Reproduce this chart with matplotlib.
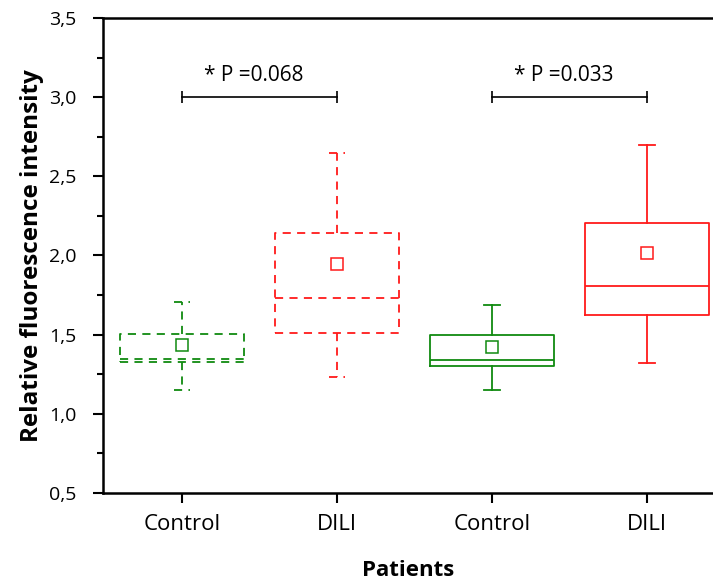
import matplotlib
matplotlib.use("Agg")
import matplotlib.pyplot as plt
from matplotlib.ticker import FuncFormatter, MultipleLocator

plt.rcParams['font.family'] = ['Open Sans', 'DejaVu Sans']

# box statistics per group: Control / DILI (dashed set), Control / DILI (solid set)
groups = ["Control", "DILI", "Control", "DILI"]
whisker_low = [1.15, 1.23, 1.152, 1.32]
q1 = [1.33, 1.508, 1.302, 1.625]
median = [1.346, 1.732, 1.342, 1.81]
q3 = [1.506, 2.144, 1.498, 2.207]
whisker_high = [1.704, 2.65, 1.686, 2.698]
mean = [1.435, 1.945, 1.422, 2.013]

colors = ["#108a10", "#ff1a1a", "#108a10", "#ff1a1a"]
styles = [(0, (4.5, 3.5)), (0, (4.5, 3.5)), "-", "-"]

# significance brackets: (left group, right group, label)
comparisons = [(1, 2, "* P =0.068"), (3, 4, "* P =0.033")]
bracket_y = 3.0

fig = plt.figure(figsize=(7.13, 5.83), dpi=100)
ax = fig.add_axes([0.1445, 0.1545, 0.8555, 0.8146])

for i in range(len(groups)):
    stats = [{
        "whislo": whisker_low[i], "q1": q1[i], "med": median[i],
        "q3": q3[i], "whishi": whisker_high[i], "mean": mean[i],
    }]
    ls = styles[i]
    c = colors[i]
    ax.bxp(stats, positions=[i + 1], widths=0.8, showmeans=True,
           showfliers=False, capwidths=0.1,
           boxprops=dict(color=c, linestyle=ls, linewidth=1.3),
           medianprops=dict(color=c, linestyle=ls, linewidth=1.3),
           whiskerprops=dict(color=c, linestyle=ls, linewidth=1.3),
           capprops=dict(color=c, linestyle=ls, linewidth=1.3),
           meanprops=dict(marker="s", markerfacecolor="none",
                          markeredgecolor=c, markersize=9,
                          markeredgewidth=1.1))

for left, right, label in comparisons:
    ax.plot([left, right], [bracket_y, bracket_y], color="black", lw=1.2)
    ax.plot([left, right], [bracket_y, bracket_y], ls="none", marker="|",
            ms=8, mew=1.2, color="black")
    ax.text((left + right) / 2 - 0.04, bracket_y + 0.14, label,
            ha="center", va="center", fontsize=15)

ax.set_xlim(0.49, 4.425)
ax.set_ylim(0.5, 3.5)
ax.set_xticks(range(1, len(groups) + 1))
ax.set_xticklabels(groups, fontsize=16)
ax.yaxis.set_major_locator(MultipleLocator(0.5))
ax.yaxis.set_minor_locator(MultipleLocator(0.25))
ax.yaxis.set_major_formatter(FuncFormatter(lambda v, p: f"{v:.1f}".replace(".", ",")))
ax.tick_params(axis="y", labelsize=14, length=7, width=1.5, pad=12)
ax.tick_params(axis="y", which="minor", length=4, width=1.5)
ax.tick_params(axis="x", length=7, width=1.5, pad=8)

ax.spines["right"].set_visible(False)
for side in ("left", "bottom", "top"):
    ax.spines[side].set_linewidth(1.8)

ax.set_ylabel("Relative fluorescence intensity", fontsize=17.5,
              fontweight="bold", labelpad=4)
ax.set_xlabel("Patients", fontsize=16, fontweight="bold", labelpad=18)

fig.savefig("out.png", dpi=100)
